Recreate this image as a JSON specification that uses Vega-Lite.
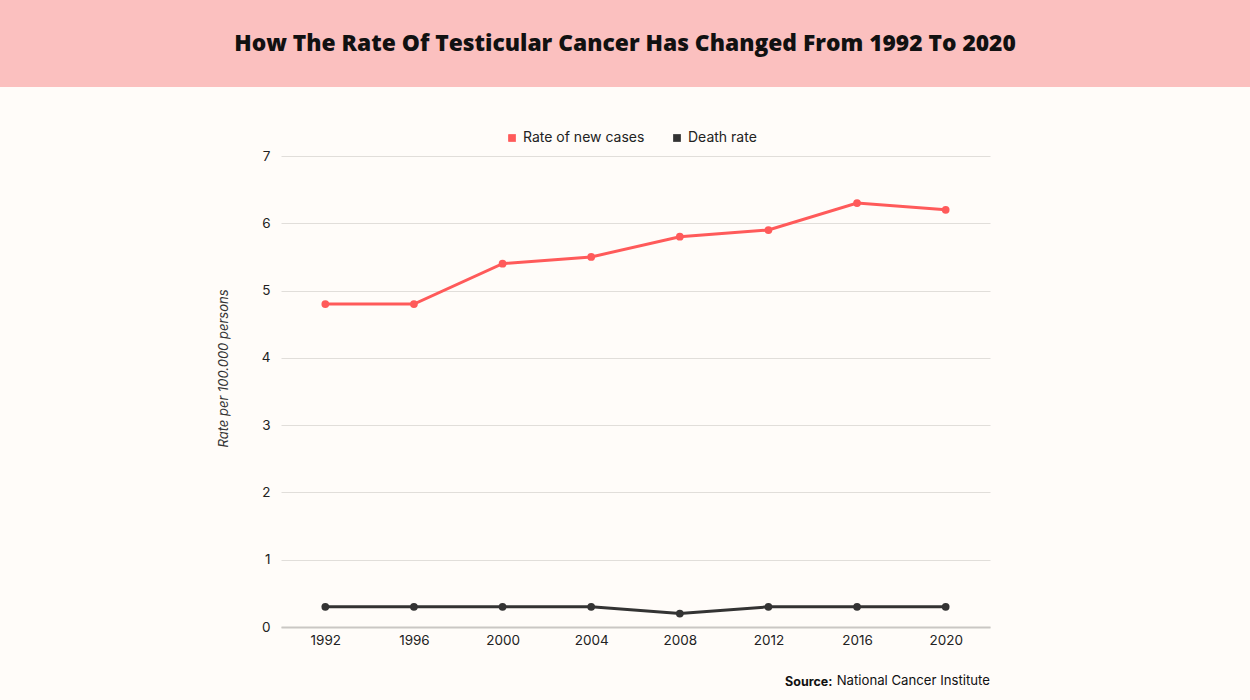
{
  "$schema": "https://vega.github.io/schema/vega-lite/v6.json",
  "background": "#fffcf9",
  "padding": {"left": 0, "top": 0, "right": 0, "bottom": 12},
  "bounds": "flush",
  "spacing": 69,
  "config": {"view": {"stroke": null}, "font": "Inter"},
  "vconcat": [
    {
      "width": 1250,
      "height": 87,
      "view": {"fill": "#fbc0bf", "stroke": null},
      "data": {"values": [{"label": "How The Rate Of Testicular Cancer Has Changed From 1992 To 2020"}]},
      "mark": {"type": "text", "font": "Open Sans", "fontWeight": 800, "fontSize": 22.8, "color": "#111111"},
      "encoding": {"text": {"field": "label"}}
    },
    {
      "bounds": "flush",
      "spacing": 0,
      "hconcat": [
        {
          "width": 281,
          "height": 471,
          "data": {"values": []},
          "mark": {"type": "point", "opacity": 0}
        },
        {
          "width": 709,
          "height": 471,
          "title": {
            "text": "National Cancer Institute",
            "orient": "bottom",
            "anchor": "end",
            "frame": "group",
            "offset": -3,
            "baseline": "alphabetic",
            "font": "Inter",
            "fontSize": 13.2,
            "fontWeight": "normal",
            "color": "#111111"
          },
          "data": {
            "values": [
              {"year": "1992", "series": "Rate of new cases", "rate": 4.8},
              {"year": "1996", "series": "Rate of new cases", "rate": 4.8},
              {"year": "2000", "series": "Rate of new cases", "rate": 5.4},
              {"year": "2004", "series": "Rate of new cases", "rate": 5.5},
              {"year": "2008", "series": "Rate of new cases", "rate": 5.8},
              {"year": "2012", "series": "Rate of new cases", "rate": 5.9},
              {"year": "2016", "series": "Rate of new cases", "rate": 6.3},
              {"year": "2020", "series": "Rate of new cases", "rate": 6.2},
              {"year": "1992", "series": "Death rate", "rate": 0.3},
              {"year": "1996", "series": "Death rate", "rate": 0.3},
              {"year": "2000", "series": "Death rate", "rate": 0.3},
              {"year": "2004", "series": "Death rate", "rate": 0.3},
              {"year": "2008", "series": "Death rate", "rate": 0.2},
              {"year": "2012", "series": "Death rate", "rate": 0.3},
              {"year": "2016", "series": "Death rate", "rate": 0.3},
              {"year": "2020", "series": "Death rate", "rate": 0.3}
            ]
          },
          "encoding": {
            "x": {
              "field": "year",
              "type": "ordinal",
              "sort": null,
              "scale": {"type": "point", "padding": 0.5},
              "axis": {
                "title": "Source:",
                "labelAngle": 0,
                "ticks": false,
                "grid": false,
                "domainColor": "#cac7c4",
                "domainWidth": 2,
                "labelFontSize": 13.5,
                "labelColor": "#222222",
                "labelPadding": 6,
                "titleFontWeight": "bold",
                "titleFontSize": 12.5,
                "titleColor": "#111111",
                "titleAlign": "right",
                "titleX": 551,
                "titleY": 58,
                "titleBaseline": "alphabetic"
              }
            },
            "y": {
              "field": "rate",
              "type": "quantitative",
              "scale": {"domain": [0, 7]},
              "axis": {
                "title": "Rate per 100.000 persons",
                "tickCount": 7,
                "ticks": false,
                "domain": false,
                "gridColor": "#e1deda",
                "labelFontSize": 13.5,
                "labelColor": "#222222",
                "labelPadding": 11,
                "titleFontStyle": "italic",
                "titleFontWeight": "normal",
                "titleFontSize": 13,
                "titleColor": "#333333",
                "titleX": -51,
                "titleY": 212,
                "titleBaseline": "bottom"
              }
            },
            "color": {
              "field": "series",
              "type": "nominal",
              "scale": {"domain": ["Rate of new cases", "Death rate"], "range": ["#ff5a5a", "#333333"]},
              "legend": {
                "title": null,
                "orient": "none",
                "direction": "horizontal",
                "legendX": 505,
                "legendY": 131,
                "symbolType": "square",
                "symbolSize": 60,
                "symbolStrokeWidth": 0,
                "labelFontSize": 14,
                "labelColor": "#222222",
                "columnPadding": 25
              }
            }
          },
          "layer": [
            {"mark": {"type": "line", "strokeWidth": 3}},
            {"mark": {"type": "circle", "size": 60, "opacity": 1}}
          ]
        }
      ]
    }
  ]
}
